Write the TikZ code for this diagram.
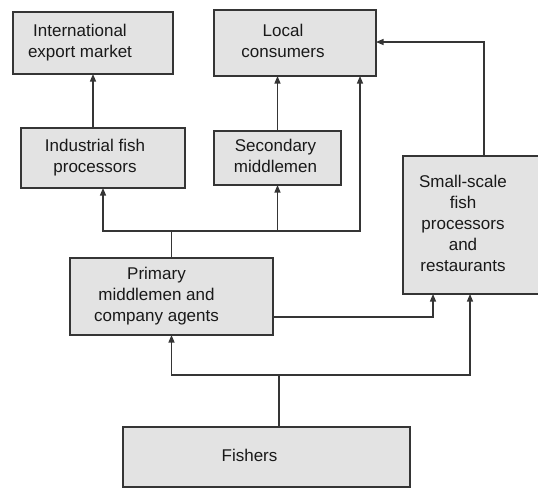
\documentclass[tikz,border=0pt]{standalone}
\usepackage{fontspec}
\setmainfont{Liberation Sans}
\usetikzlibrary{arrows.meta}
\definecolor{boxfill}{HTML}{E3E3E3}
\definecolor{linecol}{HTML}{353535}
\newcommand{\shtext}[2]{\begin{tabular}{@{}c@{}}#2\end{tabular}\kern#1\relax}
\begin{document}
\begin{tikzpicture}[x=1pt,y=-1pt,
  box/.style={draw=linecol, fill=boxfill, line width=1.1pt, inner sep=0pt, outer sep=0pt,
    font=\fontsize{17}{21}\selectfont, text=black!90},
  conn/.style={draw=linecol, line width=1.1pt},
  arr/.style={conn, -{Triangle[length=7.5pt,width=6pt]}}]
\useasboundingbox (0,0) rectangle (538,488);
\node[box, minimum width=160pt, minimum height=62pt] (intl) at (93,43) {\shtext{26pt}{International\\export market}};
\node[box, minimum width=162pt, minimum height=66pt] (local) at (295,43) {\shtext{24pt}{Local\\consumers}};
\node[box, minimum width=164pt, minimum height=60pt] (indus) at (103,158) {\shtext{16pt}{Industrial fish\\processors}};
\node[box, minimum width=127pt, minimum height=54pt] (second) at (277.5,158) {\shtext{4pt}{Secondary\\middlemen}};
\node[box, minimum width=142pt, minimum height=138pt] (small) at (474,225) {\shtext{22pt}{Small-scale\\fish\\processors\\and\\restaurants}};
\node[box, minimum width=203pt, minimum height=77pt] (primary) at (171.5,296.5) {\shtext{30pt}{Primary\\middlemen and\\company agents}};
\node[box, minimum width=287pt, minimum height=60pt] (fishers) at (266.5,457) {\shtext{34pt}{Fishers}};
% connectors
\draw[arr] (intl.south |- indus.north) -- (intl.south);
\draw[arr] (second.north) -- (second.north |- local.south);
\coordinate (pj) at (171.5,231);
\draw[conn] (primary.north) -- (pj);
\draw[arr] (pj) -| (indus.south);
\draw[arr] (pj) -| (second.south);
\draw[arr] (pj) -| ([xshift=-16pt]local.south east);
\draw[arr] ([xshift=10pt]small.north) |- ([yshift=1pt]local.east);
\draw[arr] ([yshift=-20.5pt]primary.east) -| ([xshift=-41pt]small.south);
\coordinate (fj) at (279,375);
\draw[conn] ([xshift=12.5pt]fishers.north) -- (fj);
\draw[arr] (fj) -| (primary.south);
\draw[arr] (fj) -| ([xshift=-4pt]small.south);
\end{tikzpicture}
\end{document}
